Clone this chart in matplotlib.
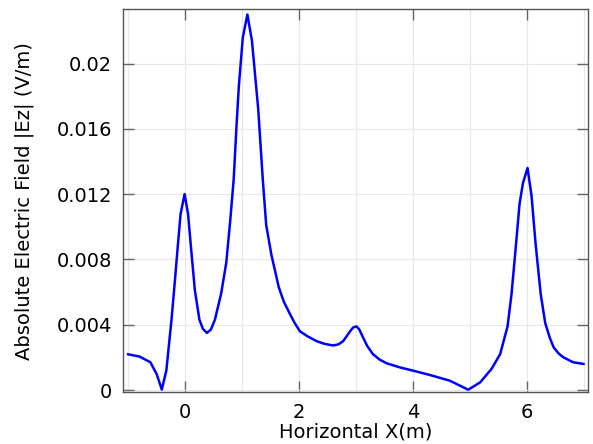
import matplotlib
matplotlib.use('Agg')
import matplotlib.pyplot as plt
from matplotlib.ticker import FuncFormatter

x_m = [-0.99, -0.79, -0.60, -0.49, -0.40, -0.32, -0.23, -0.17, -0.12, -0.07,
       0.0, 0.06, 0.11, 0.18, 0.26, 0.32, 0.39, 0.46, 0.53, 0.64, 0.73,
       0.80, 0.86, 0.91, 0.95, 1.02, 1.10, 1.18, 1.29, 1.37, 1.43, 1.52,
       1.65, 1.74, 1.84, 1.93, 2.02, 2.15, 2.31, 2.45, 2.60, 2.70, 2.78,
       2.89, 2.95, 3.01, 3.06, 3.13, 3.20, 3.30, 3.42, 3.54, 3.77, 4.00,
       4.30, 4.65, 4.97, 5.18, 5.38, 5.53, 5.66, 5.73, 5.81, 5.87, 5.93,
       6.01, 6.08, 6.15, 6.24, 6.32, 6.40, 6.47, 6.56, 6.64, 6.81, 6.99]
ez_abs = [0.00219, 0.00205, 0.00170, 0.00098, 0.00003, 0.00120, 0.00430,
          0.00670, 0.00880, 0.01080, 0.01200, 0.01080, 0.00880, 0.00610,
          0.00430, 0.00375, 0.00350, 0.00370, 0.00430, 0.00590, 0.00780,
          0.01040, 0.01290, 0.01620, 0.01860, 0.02160, 0.02300, 0.02140,
          0.01720, 0.01290, 0.01010, 0.00830, 0.00630, 0.00540, 0.00470,
          0.00410, 0.00360, 0.00330, 0.00300, 0.00283, 0.00273, 0.00280,
          0.00300, 0.00355, 0.00382, 0.00390, 0.00372, 0.00320, 0.00270,
          0.00220, 0.00186, 0.00164, 0.00139, 0.00119, 0.00092, 0.00057,
          0.00002, 0.00047, 0.00130, 0.00220, 0.00390, 0.00590, 0.00900,
          0.01140, 0.01268, 0.01360, 0.01190, 0.00900, 0.00590, 0.00410,
          0.00320, 0.00260, 0.00222, 0.00200, 0.00170, 0.00160]

x_major = [0, 2, 4, 6]
x_minor = [-1, 0, 1, 2, 3, 4, 5, 6, 7]
y_major = [0, 0.004, 0.008, 0.012, 0.016, 0.02]

fig = plt.figure(figsize=(5.93, 4.44), dpi=100)
ax = fig.add_axes([0.2074, 0.1164, 0.7842, 0.8626])

ax.plot(x_m, ez_abs, color='#0000ff', lw=1.8)

ax.set_xlim(-1.08, 7.07)
ax.set_ylim(-0.00014, 0.02332)
ax.set_xticks(x_major)
ax.set_xticks(x_minor, minor=True)
ax.set_yticks(y_major)
ax.yaxis.set_major_formatter(FuncFormatter(lambda v, p: '%g' % round(v, 4)))

ax.grid(True, which='both', axis='x', color='#e8e8e8', lw=0.9)
ax.grid(True, which='major', axis='y', color='#e8e8e8', lw=0.9)
ax.set_axisbelow(True)

ax.tick_params(which='major', direction='in', length=8, width=1,
               color='#666666', top=True, right=True, labelsize=14, pad=8)
ax.tick_params(which='minor', length=0)
for s in ax.spines.values():
    s.set_color('#555555')
    s.set_linewidth(1)

ax.set_xlabel('Horizontal X(m)', fontsize=14, labelpad=0)
ax.set_ylabel('Absolute Electric Field |Ez| (V/m)', fontsize=14, labelpad=16)

fig.savefig('out.png', dpi=100)
